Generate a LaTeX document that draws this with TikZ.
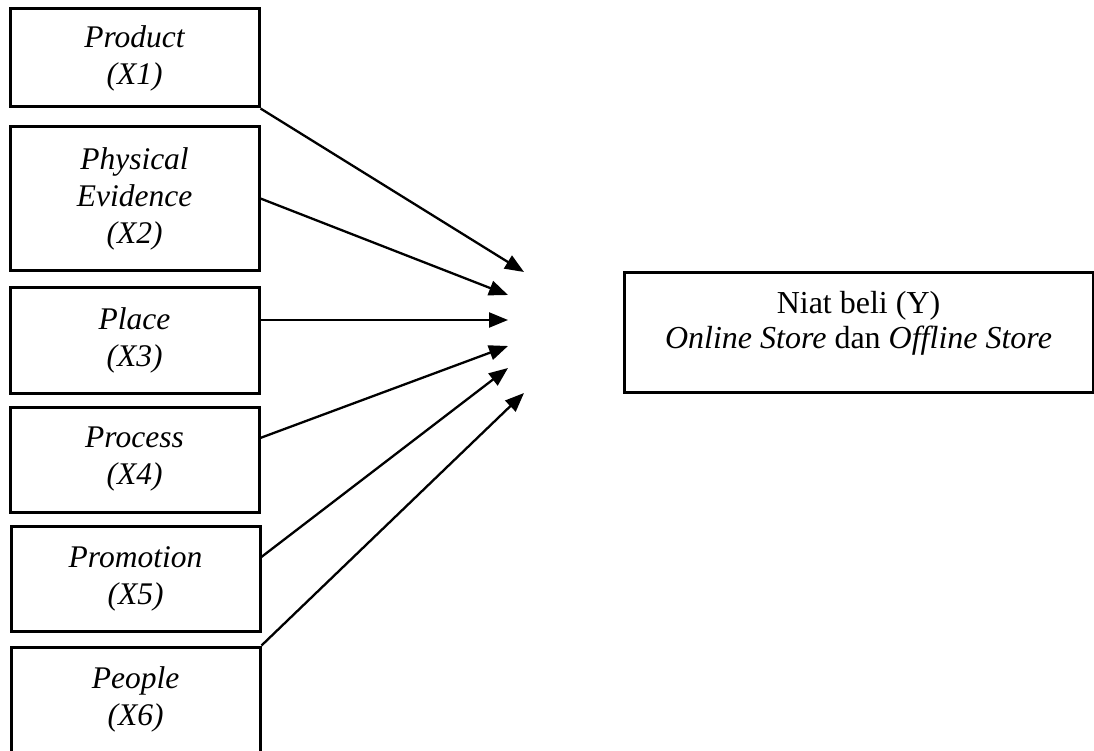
\documentclass[tikz,border=0pt]{standalone}
\usepackage{fontspec}
\setmainfont{Liberation Serif}
\usetikzlibrary{calc}
\usetikzlibrary{arrows.meta}

\begin{document}
\begin{tikzpicture}[
	x=1pt,
	y=-1pt,
	box/.style={
		draw,
		line width=3pt,
		inner sep=0pt,
		align=center,
		minimum width=249pt,
		font=\fontsize{31.5}{37}\selectfont\itshape,
	},
	target/.style={
		draw,
		line width=3pt,
		inner sep=0pt,
		align=center,
		minimum width=469pt,
		minimum height=120pt,
		text depth=24pt,
		font=\fontsize{32}{35}\selectfont,
	},
	arrow/.style={
		line width=2.3pt,
		-{Triangle[length=19pt,width=15pt]},
	}
]
\useasboundingbox (0,0) rectangle (1094,751);

\node[box, minimum height=98pt] (X1) at (134.5,58) {Product\\(X1)};
\node[box, minimum height=143pt] (X2) at (134.5,198.5) {Physical\\Evidence\\(X2)};
\node[box, minimum height=106pt] (X3) at (134.5,340) {Place\\(X3)};
\node[box, minimum height=105pt] (X4) at (134.5,459.5) {Process\\(X4)};
\node[box, minimum height=105pt] (X5) at (135.5,578.5) {Promotion\\(X5)};
\node[box, minimum height=105pt] (X6) at (135.5,699.5) {People\\(X6)};

\node[target] (Y) at (858.5,332) {Niat beli (Y)\\\textit{Online Store} dan \textit{Offline Store}};

\coordinate (T1) at (524,272);
\coordinate (T2) at (508,295);
\coordinate (T3) at (508,320);
\coordinate (T4) at (508,346);
\coordinate (T5) at (508,368);
\coordinate (T6) at (524,393);

\draw[arrow] (X1.south east) -- (T1);
\draw[arrow] (X2.east) -- (T2);
\draw[arrow] (X3.east |- T3) -- (T3);
\draw[arrow] ($(X4.north east)!.3!(X4.south east)$) -- (T4);
\draw[arrow] ($(X5.north east)!.3!(X5.south east)$) -- (T5);
\draw[arrow] (X6.north east) -- (T6);
\end{tikzpicture}
\end{document}
